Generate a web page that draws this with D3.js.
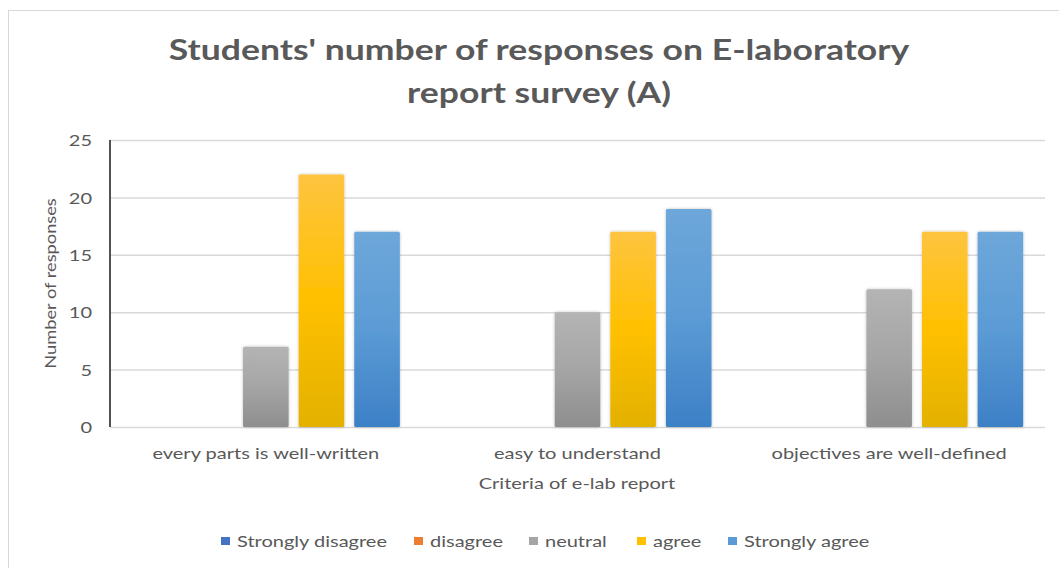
<!DOCTYPE html>
<html>
<head>
<meta charset="utf-8">
<script src="https://cdn.jsdelivr.net/npm/d3@7"></script>
<style>
  body { margin: 0; background: #fff; }
  svg text { font-family: Lato, "Open Sans", sans-serif; }
</style>
</head>
<body>
<svg id="chart" width="1059" height="568"></svg>
<script>
// Survey criteria and response counts per answer
const categories = ["every parts is well-written", "easy to understand", "objectives are well-defined"];
const seriesNames = ["Strongly disagree", "disagree", "neutral", "agree", "Strongly agree"];
const stronglyDisagree = [0, 0, 0];
const disagree = [0, 0, 0];
const neutral = [7, 10, 12];
const agree = [22, 17, 17];
const stronglyAgree = [17, 19, 17];
const yTicks = [0, 5, 10, 15, 20, 25];
const titleLines = ["Students' number of responses on E-laboratory", "report survey (A)"];
const xTitle = "Criteria of e-lab report";
const yTitle = "Number of responses";

const seriesValues = [stronglyDisagree, disagree, neutral, agree, stronglyAgree];
const colors = ["#4472c4", "#ed7d31", "#a5a5a5", "#ffc000", "#5b9bd5"];
// top / bottom shades for the bar gradients
const shadeTop = ["#6a8fd3", "#f29a5c", "#b4b4b4", "#fec43f", "#6ea7da"];
const shadeBottom = ["#355fae", "#d56a22", "#8e8e8e", "#e3b100", "#3d80c6"];

const textColor = "#595959";
const wide = 1.25; // horizontal widening applied to the wide-set labels

const svg = d3.select("#chart");
const plot = { left: 110, right: 1045, top: 140, bottom: 427 };

// widen a text selection horizontally by a factor
function widen(sel, k) {
  sel.each(function () {
    const w = this.getComputedTextLength();
    d3.select(this).attr("textLength", w * k).attr("lengthAdjust", "spacingAndGlyphs");
  });
}

// chart frame
svg.append("rect")
  .attr("x", 8.5).attr("y", 10.5)
  .attr("width", 1100).attr("height", 600)
  .attr("fill", "#fff").attr("stroke", "#d9d9d9").attr("stroke-width", 1);

const defs = svg.append("defs");
seriesNames.forEach((s, i) => {
  const g = defs.append("linearGradient")
    .attr("id", "grad" + i)
    .attr("x1", 0).attr("y1", 0).attr("x2", 0).attr("y2", 1);
  g.append("stop").attr("offset", "0%").attr("stop-color", shadeTop[i]);
  g.append("stop").attr("offset", "50%").attr("stop-color", colors[i]);
  g.append("stop").attr("offset", "100%").attr("stop-color", shadeBottom[i]);
});
const shadow = defs.append("filter").attr("id", "shadow")
  .attr("x", "-20%").attr("y", "-10%").attr("width", "140%").attr("height", "120%");
shadow.append("feDropShadow").attr("dx", 0).attr("dy", 0).attr("stdDeviation", 1.5)
  .attr("flood-color", "#000").attr("flood-opacity", 0.25);

const x0 = d3.scaleBand().domain(categories)
  .range([plot.left, plot.right]).paddingInner(0.14).paddingOuter(0.07);
const x1 = d3.scaleBand().domain(seriesNames)
  .range([0, x0.bandwidth()]).paddingInner(0.18);
const y = d3.scaleLinear().domain([0, 25]).range([plot.bottom, plot.top]);

// horizontal gridlines and value labels
const yAxis = d3.axisLeft(y).tickValues(yTicks).tickSize(-(plot.right - plot.left)).tickPadding(18);
const gy = svg.append("g").attr("transform", `translate(${plot.left},0)`).call(yAxis);
gy.select(".domain").remove();
gy.selectAll(".tick line").attr("stroke", "#d9d9d9").attr("stroke-width", 1.5);
gy.selectAll(".tick text")
  .attr("fill", textColor).attr("dy", "0.36em").style("font-size", "16px")
  .call(widen, wide);

// vertical axis line
svg.append("line")
  .attr("x1", plot.left).attr("x2", plot.left)
  .attr("y1", y(25)).attr("y2", y(0))
  .attr("stroke", "#404040").attr("stroke-width", 1.8);

// bars
const groups = svg.append("g").selectAll("g")
  .data(categories).join("g")
  .attr("transform", d => `translate(${x0(d)},0)`);
groups.selectAll("rect")
  .data((c, ci) => seriesNames.map((s, si) => ({ s, si, v: seriesValues[si][ci] })))
  .join("rect")
  .filter(d => d.v > 0)
  .attr("x", d => x1(d.s))
  .attr("y", d => y(d.v))
  .attr("width", x1.bandwidth())
  .attr("height", d => y(0) - y(d.v))
  .attr("rx", 1.5)
  .attr("fill", d => `url(#grad${d.si})`)
  .attr("filter", "url(#shadow)");

// category labels
const xAxis = d3.axisBottom(x0).tickSize(0).tickPadding(21);
const gx = svg.append("g").attr("transform", `translate(0,${plot.bottom})`).call(xAxis);
gx.select(".domain").remove();
gx.selectAll(".tick text").attr("fill", textColor).style("font-size", "16px")
  .call(widen, wide);

// axis titles
svg.append("text")
  .attr("x", 577).attr("y", 489)
  .attr("text-anchor", "middle").attr("fill", textColor)
  .style("font-size", "16px").text(xTitle)
  .call(widen, wide);
svg.append("text")
  .attr("transform", `translate(56,${(plot.top + plot.bottom) / 2}) rotate(-90)`)
  .attr("text-anchor", "middle").attr("fill", textColor)
  .style("font-size", "16px").text(yTitle)
  .call(widen, 1.14);

// title
svg.append("g").selectAll("text")
  .data(titleLines).join("text")
  .attr("x", 539).attr("y", (d, i) => 60 + i * 43)
  .attr("text-anchor", "middle").attr("fill", textColor)
  .style("font-size", "28px").style("font-weight", "bold")
  .text(d => d)
  .call(widen, 1.27);

// legend
const legendX = [221, 414, 529, 637, 728];
const legend = svg.append("g").selectAll("g")
  .data(seriesNames).join("g")
  .attr("transform", (d, i) => `translate(${legendX[i]},541)`);
legend.append("rect")
  .attr("x", 0).attr("y", -4).attr("width", 9).attr("height", 8)
  .attr("fill", (d, i) => colors[i]);
legend.append("text")
  .attr("x", 16).attr("y", 6)
  .attr("fill", textColor).style("font-size", "16px")
  .text(d => d)
  .call(widen, wide);
</script>
</body>
</html>
